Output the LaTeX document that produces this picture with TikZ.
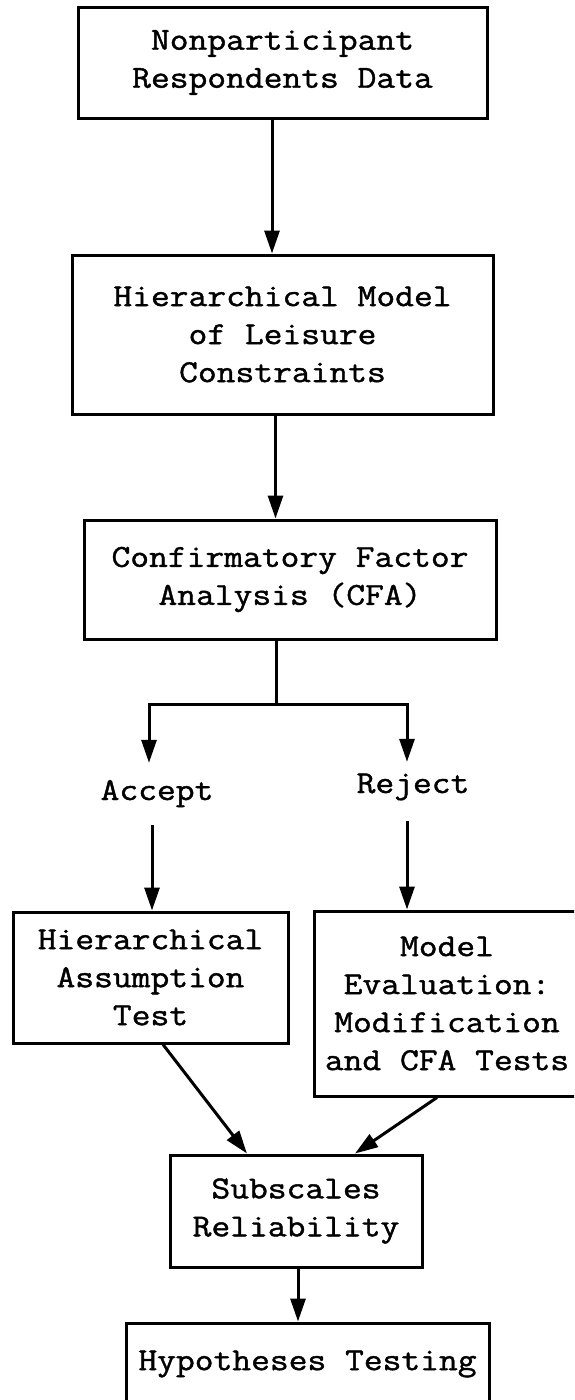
\documentclass[tikz,border=0pt]{standalone}
\usepackage{fontspec}
\usetikzlibrary{arrows.meta}
\newfontfamily\flowfont{Latin Modern Mono}[FakeStretch=1.14,FakeBold=1.3]
\begin{document}
\begin{tikzpicture}[x=1pt,y=-1pt,
  box/.style={draw, line width=3pt, rectangle, inner sep=0pt, align=center,
    font=\flowfont\fontsize{32}{38}\selectfont},
  lab/.style={inner sep=0pt, anchor=base, font=\flowfont\fontsize{32}{38}\selectfont},
  arr/.style={line width=3pt, -{Triangle[length=23pt,width=15pt]}},
  link/.style={line width=3pt}]
\clip (0,0) rectangle (574,1400);
\fill[white] (0,0) rectangle (574,1400);

% boxes
\node[box, minimum width=409pt, minimum height=111pt] (data) at (282.5,62.5)
  {Nonparticipant\\Respondents Data};
\node[box, minimum width=421pt, minimum height=159pt] (model) at (282.5,334.5)
  {Hierarchical Model\\of Leisure\\Constraints};
\node[box, minimum width=412pt, minimum height=119pt] (cfa) at (290,579.5)
  {Confirmatory Factor\\Analysis (CFA)};
\node[box, minimum width=275pt, minimum height=131pt] (hier) at (150.5,977.5)
  {Hierarchical\\Assumption\\Test};
\node[box, minimum width=266pt, minimum height=185pt] (eval) at (447,1003.5)
  {Model\\Evaluation:\\Modification\\and CFA Tests};
\node[box, minimum width=252pt, minimum height=112pt] (sub) at (296,1211)
  {Subscales\\Reliability};
\node[box, minimum width=363pt, minimum height=82pt] (hyp) at (307.5,1364)
  {Hypotheses Testing};

% branch labels
\node[lab, text height=37pt, text depth=25pt] (accept) at (157,800) {Accept};
\node[lab, text height=31pt, text depth=28pt] (reject) at (413,793) {Reject};

% connector columns
\coordinate (c1) at (272,0);
\coordinate (c2) at (275.5,0);
\coordinate (fork) at (276,704);
\coordinate (colA) at (149,0);
\coordinate (colR) at (407,0);
\coordinate (colA2) at (152,0);
\coordinate (colS) at (298,0);

% connectors
\draw[arr] (data.south -| c1) -- (model.north -| c1);
\draw[arr] (model.south -| c2) -- (cfa.north -| c2);
\draw[link] (cfa.south -| fork) -- (fork);
\draw[arr] (fork) -| (accept.north -| colA);
\draw[arr] (fork) -| (reject.north -| colR);
\draw[arr] (accept.south -| colA2) -- (hier.north -| colA2);
\draw[arr] (reject.south -| colR) -- (eval.north -| colR);
\draw[arr] ([xshift=12.5pt]hier.south) -- ([xshift=-49pt]sub.north);
\draw[arr] ([xshift=-10pt]eval.south) -- ([xshift=59pt]sub.north);
\draw[arr] (sub.south -| colS) -- (hyp.north -| colS);
\end{tikzpicture}
\end{document}
